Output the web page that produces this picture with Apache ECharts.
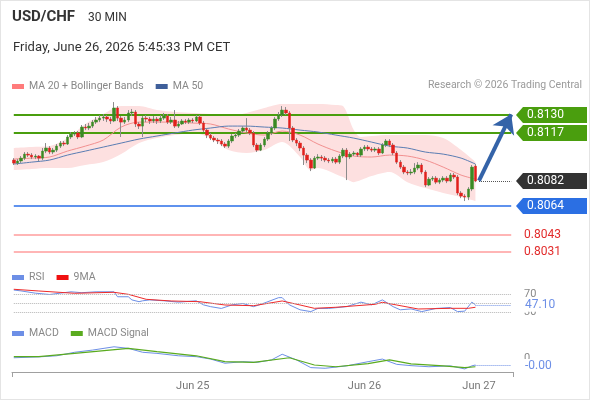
<!DOCTYPE html>
<html>
<head>
<meta charset="utf-8">
<script src="https://cdn.jsdelivr.net/npm/echarts@6/dist/echarts.min.js"></script>
<style>
  html, body { margin: 0; padding: 0; background: #fff; }
  #wrap { position: relative; width: 590px; height: 400px; }
  #chart { width: 590px; height: 400px; }
  #frame { position: absolute; left: 0; top: 0; width: 590px; height: 400px; box-sizing: border-box; border: 1px solid #e4e4e4; pointer-events: none; }
</style>
</head>
<body>
<div id="wrap"><div id="chart"></div><div id="frame"></div></div>
<script>
// Couleurs du graphique
const COLORS = {
    text: '#333333',
    muted: '#888888',
    green: '#4a9e0e',
    blue: '#2b6fe3',
    dark: '#333333',
    red: '#e22b2b',
    minor: '#ff9c9c',
    up: '#3a8a24',
    down: '#e0201c',
    wick: '#8c8c8c',
    ma20: '#f29090',
    ma50: '#5a7db3',
    band: '#fde0e0',
    rsi: '#6d8fe6',
    rsiMa: '#ee2b2b',
    signal: '#5aab1f',
    arrow: '#3463a8'
};
const FONT = 'Roboto, "Liberation Sans", Arial, sans-serif';

// Axe des temps (bougies de 30 min) et libellés des jours
const SLOTS = 140;
const dayTickIndex = [50, 98, 130];
const dayTickText = ['Jun 25', 'Jun 26', 'Jun 27'];

// Bougies : [ouverture, clôture, plus bas, plus haut]
const candles = [
    [0.80974,0.80952,0.80938,0.80988],[0.80952,0.80967,0.80938,0.80981],[0.80967,0.80988,0.80952,0.81003],
    [0.80988,0.81017,0.80974,0.81032],[0.81017,0.81010,0.80996,0.81032],[0.81010,0.80996,0.80981,0.81024],
    [0.80996,0.81003,0.80981,0.81017],[0.81003,0.80988,0.80967,0.81010],[0.80988,0.81039,0.80974,0.81061],
    [0.81039,0.81061,0.81024,0.81097],[0.81061,0.81032,0.81017,0.81075],[0.81032,0.81046,0.81017,0.81061],
    [0.81046,0.81075,0.81032,0.81090],[0.81075,0.81097,0.81061,0.81112],[0.81097,0.81090,0.81075,0.81112],
    [0.81090,0.81141,0.81083,0.81155],[0.81141,0.81162,0.81126,0.81177],[0.81162,0.81170,0.81148,0.81184],
    [0.81170,0.81141,0.81126,0.81184],[0.81141,0.81213,0.81133,0.81228],[0.81213,0.81206,0.81191,0.81235],
    [0.81206,0.81220,0.81191,0.81242],[0.81220,0.81249,0.81206,0.81264],[0.81249,0.81264,0.81235,0.81286],
    [0.81264,0.81278,0.81249,0.81300],[0.81278,0.81286,0.81257,0.81307],[0.81286,0.81271,0.81249,0.81300],
    [0.81271,0.81257,0.81235,0.81286],[0.81257,0.81351,0.81249,0.81394],[0.81351,0.81278,0.81257,0.81365],
    [0.81278,0.81249,0.81141,0.81293],[0.81249,0.81264,0.81235,0.81286],[0.81264,0.81315,0.81249,0.81336],
    [0.81315,0.81322,0.81293,0.81344],[0.81322,0.81235,0.81213,0.81336],[0.81235,0.81220,0.81199,0.81249],
    [0.81220,0.81278,0.81141,0.81293],[0.81278,0.81271,0.81249,0.81300],[0.81271,0.81257,0.81235,0.81286],
    [0.81257,0.81271,0.81242,0.81293],[0.81271,0.81257,0.81235,0.81286],[0.81257,0.81278,0.81242,0.81300],
    [0.81278,0.81293,0.81264,0.81315],[0.81293,0.81249,0.81235,0.81307],[0.81249,0.81264,0.81235,0.81286],
    [0.81264,0.81220,0.81206,0.81336],[0.81220,0.81235,0.81206,0.81257],[0.81235,0.81257,0.81228,0.81271],
    [0.81257,0.81249,0.81235,0.81271],[0.81249,0.81264,0.81235,0.81278],[0.81264,0.81257,0.81242,0.81278],
    [0.81257,0.81286,0.81249,0.81300],[0.81286,0.81242,0.81228,0.81300],[0.81242,0.81191,0.81177,0.81257],
    [0.81191,0.81155,0.81133,0.81206],[0.81155,0.81133,0.81119,0.81170],[0.81133,0.81119,0.81104,0.81148],
    [0.81119,0.81112,0.81090,0.81133],[0.81112,0.81090,0.81075,0.81126],[0.81090,0.81075,0.81061,0.81104],
    [0.81075,0.81112,0.81061,0.81126],[0.81112,0.81148,0.81097,0.81162],[0.81148,0.81155,0.81133,0.81170],
    [0.81155,0.81184,0.81141,0.81199],[0.81184,0.81206,0.81170,0.81220],[0.81206,0.81191,0.81177,0.81278],
    [0.81191,0.81170,0.81155,0.81206],[0.81170,0.81083,0.81068,0.81184],[0.81083,0.81046,0.81032,0.81097],
    [0.81046,0.81083,0.81039,0.81097],[0.81083,0.81126,0.81068,0.81141],[0.81126,0.81170,0.81112,0.81184],
    [0.81170,0.81206,0.81155,0.81220],[0.81206,0.81271,0.81191,0.81286],[0.81271,0.81300,0.81257,0.81322],
    [0.81300,0.81336,0.81286,0.81365],[0.81336,0.81315,0.81300,0.81358],[0.81315,0.81206,0.81112,0.81329],
    [0.81206,0.81119,0.81104,0.81220],[0.81119,0.81097,0.81075,0.81133],[0.81097,0.81061,0.81039,0.81112],
    [0.81061,0.81010,0.80938,0.81075],[0.81010,0.80974,0.80952,0.81024],[0.80974,0.80916,0.80894,0.80988],
    [0.80916,0.80988,0.80909,0.81003],[0.80988,0.80996,0.80974,0.81017],[0.80996,0.80988,0.80967,0.81010],
    [0.80988,0.80974,0.80959,0.81003],[0.80974,0.80967,0.80952,0.80988],[0.80967,0.80981,0.80952,0.80996],
    [0.80981,0.80959,0.80945,0.80996],[0.80959,0.81003,0.80945,0.81017],[0.81003,0.81046,0.80988,0.81061],
    [0.81046,0.80996,0.80829,0.81061],[0.80996,0.81017,0.80981,0.81032],[0.81017,0.81025,0.81003,0.81039],
    [0.81025,0.81010,0.80996,0.81032],[0.81010,0.81054,0.80996,0.81068],[0.81054,0.81068,0.81039,0.81083],
    [0.81068,0.81054,0.81039,0.81083],[0.81054,0.81046,0.81032,0.81068],[0.81046,0.81054,0.81032,0.81068],
    [0.81054,0.81025,0.81010,0.81068],[0.81025,0.81083,0.81017,0.81097],[0.81083,0.81112,0.81068,0.81126],
    [0.81112,0.81083,0.81068,0.81126],[0.81083,0.81025,0.81010,0.81097],[0.81025,0.80959,0.80945,0.81039],
    [0.80959,0.80923,0.80909,0.80974],[0.80923,0.80887,0.80872,0.80938],[0.80887,0.80880,0.80865,0.80901],
    [0.80880,0.80887,0.80865,0.80909],[0.80887,0.80916,0.80872,0.80952],[0.80916,0.80938,0.80901,0.80959],
    [0.80938,0.80887,0.80872,0.80952],[0.80887,0.80793,0.80778,0.80901],[0.80793,0.80836,0.80785,0.80851],
    [0.80836,0.80843,0.80822,0.80858],[0.80843,0.80814,0.80800,0.80858],[0.80814,0.80829,0.80800,0.80843],
    [0.80829,0.80843,0.80814,0.80858],[0.80843,0.80822,0.80807,0.80858],[0.80822,0.80865,0.80814,0.80880],
    [0.80865,0.80851,0.80836,0.80880],[0.80851,0.80735,0.80720,0.80865],[0.80735,0.80713,0.80698,0.80749],
    [0.80713,0.80706,0.80677,0.80727],[0.80706,0.80764,0.80684,0.80778],[0.80764,0.80923,0.80749,0.80938],
    [0.80930,0.80822,0.80814,0.80945]
];

// Moyennes mobiles : [indice de bougie, valeur]
const ma20 = [[0,0.80981],[5,0.80988],[10,0.80996],[15,0.81039],[20,0.81075],[25,0.81119],[30,0.81213],
    [35,0.81249],[40,0.81249],[45,0.81249],[50,0.81242],[55,0.81235],[60,0.81199],[65,0.81170],[70,0.81155],
    [75,0.81184],[80,0.81155],[85,0.81090],[90,0.81039],[95,0.81003],[100,0.80996],[105,0.81010],[110,0.81003],
    [115,0.80974],[120,0.80923],[125,0.80865],[129,0.80836]];
const ma50 = [[0,0.80945],[5,0.80959],[10,0.80974],[15,0.81010],[20,0.81039],[25,0.81068],[30,0.81097],
    [35,0.81126],[40,0.81148],[45,0.81170],[50,0.81191],[55,0.81206],[60,0.81220],[65,0.81220],[70,0.81213],
    [75,0.81206],[80,0.81191],[85,0.81177],[90,0.81155],[95,0.81133],[100,0.81104],[105,0.81075],[110,0.81061],
    [115,0.81032],[120,0.81017],[125,0.80988],[129,0.80945]];

// Bandes de Bollinger, lues aux mêmes bougies
const bbIndex = [0, 5, 10, 15, 20, 25, 30, 35, 40, 45, 50, 55, 60, 65, 70, 75, 80, 83, 85, 90, 92, 95, 97,
    100, 105, 110, 115, 120, 125, 129];
const bbUpper = [0.81061, 0.81068, 0.81075, 0.81133, 0.81235, 0.81307, 0.81365, 0.81365, 0.81336, 0.81322,
    0.81315, 0.81307, 0.81293, 0.81315, 0.81351, 0.81380, 0.81380, 0.81380, 0.81380, 0.81373, 0.81365, 0.81191,
    0.81141, 0.81148, 0.81155, 0.81155, 0.81155, 0.81133, 0.81046, 0.80959];
const bbLower = [0.80901, 0.80909, 0.80916, 0.80916, 0.80938, 0.80959, 0.81017, 0.81097, 0.81133, 0.81155,
    0.81170, 0.81133, 0.81046, 0.81025, 0.81046, 0.81104, 0.80996, 0.80901, 0.80916, 0.80872, 0.80851, 0.80814,
    0.80829, 0.80858, 0.80887, 0.80814, 0.80771, 0.80735, 0.80706, 0.80677];

// Niveaux d'analyse
const levelResist = [0.8130, 0.8117];
const levelSupport = [0.8064];
const levelMinor = [0.8043, 0.8031];
const lastPrice = 0.8082;

// RSI et sa moyenne 9 périodes
const rsi = [[0,80],[2,78],[6,73],[10,70],[13,73],[16,76],[19,74],[23,76],[28,76],[29,65],[32,65],[33,58],
    [35,54],[36,56],[38,58],[42,56],[46,53],[51,56],[53,47],[55,43],[58,39],[61,47],[64,50],[67,43],[69,48],
    [74,63],[75,63],[77,47],[80,36],[83,32],[85,39],[88,39],[93,43],[97,53],[100,47],[103,58],[106,43],
    [108,36],[111,38],[114,32],[118,39],[122,41],[124,32],[126,33],[128,53],[129,47.1]];
const rsiMa = [[0,81.6],[7,77.8],[17,72.7],[28,74.9],[32,70.4],[37,59.3],[44,55.6],[52,54],[59,46.7],
    [67,45.1],[75,55.6],[80,46.7],[84,39.3],[90,41.6],[101,48.2],[103,52.7],[107,46.7],[113,37.8],
    [122,39.3],[127,39.3],[129,41.6]];
const rsiLevels = [70, 50, 30];
const rsiLast = 47.10;

// MACD et signal
const macd = [[0,0.00001],[7,0.00005],[12,0.00010],[17,0.00026],[22,0.00036],[28,0.00051],[32,0.00044],
    [36,0.00026],[40,0.00021],[46,0.00010],[51,0.00006],[55,-0.00005],[59,-0.00024],[64,-0.00017],
    [68,-0.00020],[72,-0.00009],[75,0.00017],[79,-0.00009],[83,-0.00044],[87,-0.00047],[93,-0.00036],
    [99,-0.00017],[103,-0.00005],[107,-0.00029],[111,-0.00035],[116,-0.00040],[122,-0.00036],[126,-0.00050],
    [128,-0.00036],[129,-0.00032]];
const macdSignal = [[0,0.00006],[7,0.00006],[17,0.00021],[32,0.00044],[40,0.00029],[51,0.00010],
    [59,-0.00017],[67,-0.00020],[77,0.00001],[84,-0.00032],[90,-0.00040],[99,-0.00026],[105,-0.00009],
    [111,-0.00027],[120,-0.00036],[126,-0.00044],[129,-0.00040]];

const chart = echarts.init(document.getElementById('chart'));

const slots = Array.from({ length: SLOTS }, (_, i) => String(i));
const bodies = candles.map(([o, c]) => [o, c, Math.min(o, c), Math.max(o, c)]);
const lastIndex = candles.length - 1;
const bandBase = bbIndex.map((k, i) => [k, bbLower[i]]);
const bandWidth = bbIndex.map((k, i) => [k, bbUpper[i] - bbLower[i]]);

function hiddenX(gridIndex) {
    return { type: 'category', gridIndex, data: slots, boundaryGap: true, show: false };
}

// Ligne horizontale d'un bout à l'autre de l'axe
function levelLine(value, lineStyle) {
    return [{ coord: [0, value], lineStyle }, { coord: [SLOTS - 1, value], lineStyle }];
}

function levelMarks(values, lineStyle) {
    return { silent: true, symbol: 'none', label: { show: false }, lineStyle,
             data: values.map(v => levelLine(v, lineStyle)) };
}

function legendBox(top, items) {
    return {
        left: 12, top, padding: 0, icon: 'rect', itemWidth: 12, itemHeight: 5, itemGap: 12,
        selectedMode: false, textStyle: { color: COLORS.muted, fontSize: 10.5, fontFamily: FONT },
        data: items.map(([name, color]) => ({ name, itemStyle: { color } }))
    };
}

const option = {
    animation: false,
    backgroundColor: '#ffffff',
    textStyle: { fontFamily: FONT },
    title: [
        { text: 'USD/CHF', left: 12, top: 10, padding: 0,
          textStyle: { fontSize: 15, fontWeight: 'bold', color: COLORS.text, fontFamily: FONT } },
        { text: '30 MIN', left: 88, top: 12, padding: 0,
          textStyle: { fontSize: 12, fontWeight: 'normal', color: COLORS.text, fontFamily: FONT } },
        { text: 'Friday, June 26, 2026 5:45:33 PM CET', left: 13, top: 41, padding: 0,
          textStyle: { fontSize: 13, fontWeight: 'normal', color: COLORS.text, fontFamily: FONT } },
        { text: 'Research © 2026 Trading Central', right: 8, top: 80, padding: 0,
          textStyle: { fontSize: 10.5, fontWeight: 'normal', color: '#9a9a9a', fontFamily: FONT } }
    ],
    legend: [
        legendBox(81, [['MA 20 + Bollinger Bands', '#ff7b7b'], ['MA 50', '#3f5f9a']]),
        legendBox(272, [['RSI', COLORS.rsi], ['9MA', '#f01010']]),
        legendBox(328, [['MACD', COLORS.rsi], ['MACD Signal', COLORS.signal]])
    ],
    grid: [
        { left: 12, right: 77, top: 100, height: 160 },
        { left: 12, right: 77, top: 281, height: 45 },
        { left: 12, right: 77, top: 340, height: 32 }
    ],
    xAxis: [
        hiddenX(0),
        hiddenX(1),
        {
            type: 'category', gridIndex: 2, data: slots, boundaryGap: true,
            axisLine: { onZero: false, lineStyle: { color: '#a0a0a0' } },
            axisTick: { show: true, length: 5, interval: (i) => i === 0 || i === SLOTS,
                        lineStyle: { color: '#a0a0a0' } },
            axisLabel: {
                color: '#777', fontSize: 11, margin: 9,
                interval: (i) => dayTickIndex.includes(i),
                formatter: (v) => {
                    const k = dayTickIndex.indexOf(Number(v));
                    return k >= 0 ? dayTickText[k] : '';
                }
            },
            splitLine: { show: false }
        }
    ],
    yAxis: [
        { type: 'value', gridIndex: 0, min: 0.80250, max: 0.81409, show: false },
        {
            type: 'value', gridIndex: 1, position: 'right', min: 0, max: 100, interval: 10,
            axisLine: { show: false }, axisTick: { show: false }, splitLine: { show: false },
            axisLabel: { color: '#888', fontSize: 11, margin: 11,
                         formatter: (v) => (v === 70 || v === 30 ? String(v) : '') }
        },
        {
            type: 'value', gridIndex: 2, position: 'right', min: -0.00064, max: 0.00082, interval: 0.00016,
            axisLine: { show: false }, axisTick: { show: false }, splitLine: { show: false },
            axisLabel: { color: '#888', fontSize: 11, margin: 11,
                         formatter: (v) => (Math.abs(v) < 1e-9 ? '0' : '') }
        }
    ],
    series: [
        {
            name: 'bbLower', type: 'line', xAxisIndex: 0, yAxisIndex: 0, data: bandBase,
            stack: 'bollinger', symbol: 'none', smooth: 0.3, silent: true, z: 1,
            lineStyle: { width: 0, opacity: 0 }
        },
        {
            name: 'bbUpper', type: 'line', xAxisIndex: 0, yAxisIndex: 0, data: bandWidth,
            stack: 'bollinger', symbol: 'none', smooth: 0.3, silent: true, z: 1,
            lineStyle: { width: 0, opacity: 0 }, areaStyle: { color: COLORS.band, opacity: 1 }
        },
        {
            name: 'MA 20 + Bollinger Bands', type: 'line', xAxisIndex: 0, yAxisIndex: 0, data: ma20,
            symbol: 'none', smooth: 0.3, silent: true, z: 3,
            itemStyle: { color: '#ff7b7b' }, lineStyle: { color: COLORS.ma20, width: 1 },
            markLine: levelMarks(levelMinor, { color: COLORS.minor, width: 1.5, type: 'solid', opacity: 1 })
        },
        {
            name: 'MA 50', type: 'line', xAxisIndex: 0, yAxisIndex: 0, data: ma50,
            symbol: 'none', smooth: 0.3, silent: true, z: 3,
            itemStyle: { color: '#3f5f9a' }, lineStyle: { color: COLORS.ma50, width: 1 },
            markLine: levelMarks(levelSupport, { color: '#5f92ee', width: 2, type: 'solid', opacity: 1 })
        },
        {
            name: 'wick', type: 'candlestick', xAxisIndex: 0, yAxisIndex: 0, data: candles,
            barWidth: 1, silent: true, z: 4,
            itemStyle: { color: COLORS.wick, color0: COLORS.wick, borderColor: COLORS.wick,
                         borderColor0: COLORS.wick, borderWidth: 1 },
            markLine: Object.assign(levelMarks(levelResist, { color: COLORS.green, width: 2, type: 'solid', opacity: 1 }), { z: 3 })
        },
        {
            name: 'body', type: 'candlestick', xAxisIndex: 0, yAxisIndex: 0, data: bodies,
            barWidth: 3, silent: true, z: 5,
            itemStyle: { color: COLORS.up, color0: COLORS.down, borderColor: COLORS.up,
                         borderColor0: COLORS.down, borderWidth: 0.5 },
            markLine: {
                silent: true, label: { show: false },
                data: [
                    [{ coord: [lastIndex + 1, lastPrice], symbol: 'none',
                       lineStyle: { color: '#555', width: 1, type: 'dotted' } },
                     { coord: [SLOTS - 1, lastPrice], symbol: 'none' }],
                    [{ coord: [lastIndex + 1, lastPrice + 0.00005], symbol: 'none',
                       lineStyle: { color: COLORS.arrow, width: 4, type: 'solid' } },
                     { coord: [SLOTS - 1, levelResist[0] + 0.00005], symbol: 'arrow', symbolSize: 18 }]
                ]
            }
        },
        {
            name: 'RSI', type: 'line', xAxisIndex: 1, yAxisIndex: 1, data: rsi,
            symbol: 'none', silent: true, z: 3,
            itemStyle: { color: COLORS.rsi }, lineStyle: { color: COLORS.rsi, width: 1 },
            markLine: {
                silent: true, symbol: 'none', label: { show: false },
                data: [
                    ...rsiLevels.map(v => [{ coord: [0, v], lineStyle: { color: '#b5b5b5', width: 1, type: 'dotted' } },
                                           { coord: [SLOTS - 1, v] }]),
                    [{ coord: [lastIndex, rsiLast], lineStyle: { color: COLORS.rsi, width: 1, type: 'dotted' } },
                     { coord: [SLOTS - 1, rsiLast] }]
                ]
            }
        },
        {
            name: '9MA', type: 'line', xAxisIndex: 1, yAxisIndex: 1, data: rsiMa,
            symbol: 'none', silent: true, z: 3,
            itemStyle: { color: '#f01010' }, lineStyle: { color: COLORS.rsiMa, width: 1 }
        },
        {
            name: 'MACD', type: 'line', xAxisIndex: 2, yAxisIndex: 2, data: macd,
            symbol: 'none', silent: true, z: 3,
            itemStyle: { color: COLORS.rsi }, lineStyle: { color: COLORS.rsi, width: 1 },
            markLine: {
                silent: true, symbol: 'none', label: { show: false },
                data: [
                    [{ coord: [lastIndex, macd[macd.length - 1][1]],
                       lineStyle: { color: COLORS.rsi, width: 1, type: 'dotted' } },
                     { coord: [SLOTS - 1, macd[macd.length - 1][1]] }]
                ]
            }
        },
        {
            name: 'MACD Signal', type: 'line', xAxisIndex: 2, yAxisIndex: 2, data: macdSignal,
            symbol: 'none', silent: true, z: 3,
            itemStyle: { color: COLORS.signal }, lineStyle: { color: COLORS.signal, width: 1.2 }
        }
    ]
};

chart.setOption(option);

// Étiquettes à droite, placées à partir des échelles
function buildLabels() {
    const g = [];
    const yMain = (v) => chart.convertToPixel({ yAxisIndex: 0 }, v);
    const tag = (value, fill) => {
        const y = Math.round(yMain(value));
        g.push({ type: 'polygon', z: 100,
                 shape: { points: [[516, y], [523, y - 8], [587, y - 8], [587, y + 8], [523, y + 8]] },
                 style: { fill } });
        g.push({ type: 'text', z: 101, x: 527, y,
                 style: { text: value.toFixed(4), fill: '#fff', font: '12px ' + FONT, verticalAlign: 'middle' } });
    };
    levelResist.forEach(v => tag(v, COLORS.green));
    tag(lastPrice, COLORS.dark);
    levelSupport.forEach(v => tag(v, COLORS.blue));
    levelMinor.forEach(v => {
        g.push({ type: 'text', z: 101, x: 524, y: Math.round(yMain(v)),
                 style: { text: v.toFixed(4), fill: COLORS.red, font: '12px ' + FONT, verticalAlign: 'middle' } });
    });
    const yRsi = chart.convertToPixel({ yAxisIndex: 1 }, rsiLast);
    g.push({ type: 'text', z: 101, x: 524, y: yRsi,
             style: { text: rsiLast.toFixed(2), fill: COLORS.rsi, font: '12px ' + FONT, verticalAlign: 'middle',
                      backgroundColor: '#fff', padding: [1, 1] } });
    const macdLast = macd[macd.length - 1][1];
    const yMacd = chart.convertToPixel({ yAxisIndex: 2 }, macdLast);
    g.push({ type: 'text', z: 101, x: 524, y: yMacd + 1,
             style: { text: '-0.00', fill: COLORS.rsi, font: '12px ' + FONT, verticalAlign: 'middle',
                      backgroundColor: '#fff', padding: [1, 1] } });
    chart.setOption({ graphic: g });
}

buildLabels();
</script>
</body>
</html>
